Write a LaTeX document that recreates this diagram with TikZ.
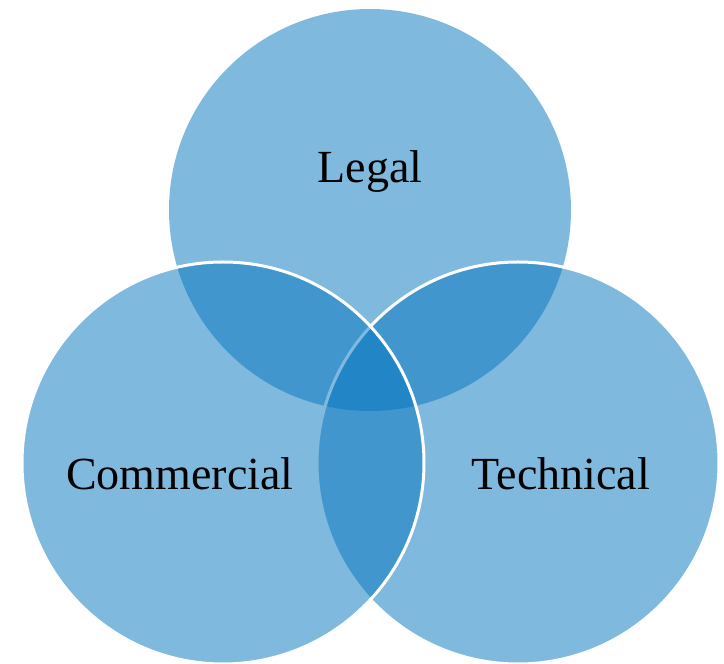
\documentclass[tikz,border=0pt]{standalone}
\usepackage{fontspec}
\setmainfont{Liberation Serif}
\definecolor{vennblue}{RGB}{2,116,190}
\tikzset{
  venn/.style={circle, minimum size=402pt, inner sep=0pt, fill=vennblue, fill opacity=0.5},
  rim/.style={draw=white, line width=3pt},
  vlabel/.style={anchor=base, font=\fontsize{46}{52}\selectfont, text=black}
}
\begin{document}
\begin{tikzpicture}[x=1pt, y=1pt]
		\useasboundingbox (0,0) rectangle (724,664);
		% circles, top first, then right and left with white rims
		\node[venn] (legal) at (370,454) {};
		\node[venn, rim] (technical) at (518,201) {};
		\node[venn, rim] (commercial) at (223,201) {};
		% labels
		\node[vlabel] (legaltxt) at (370,481) {Legal};
		\node[vlabel] (commtxt) at (180,174) {Commercial};
		\node[vlabel] (techtxt) at (561,174) {Technical};
	\end{tikzpicture}
\end{document}
